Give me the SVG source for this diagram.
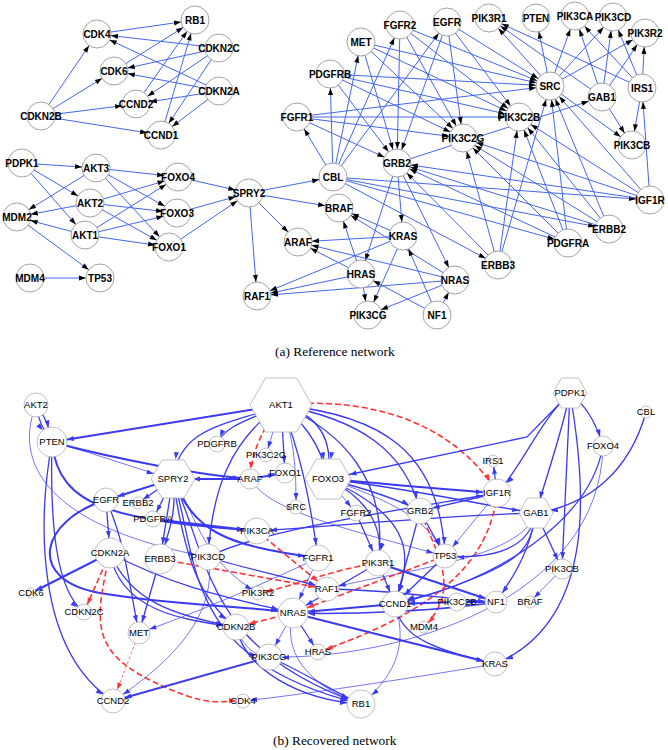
<svg xmlns="http://www.w3.org/2000/svg" width="668" height="750" viewBox="0 0 668 750">
<style>
.ea line{stroke:#4466ee;stroke-width:1;marker-end:url(#ma)}
.na circle{fill:#fff;stroke:#8a8a8a;stroke-width:0.8}
.na text{font:bold 10px "Liberation Sans",Arial,sans-serif;text-anchor:middle;fill:#000}
.eb path{fill:none;stroke:#3a3af0}
.eb .e1{stroke-width:0.7}
.eb .e2{stroke-width:1.3}
.eb .e3{stroke-width:2}
.eb path.rd{stroke:#ff3333;stroke-width:1.6;stroke-dasharray:6 3}
.eb path.rt{stroke:#ff3333;stroke-width:0.7;stroke-dasharray:3 2}
.nb circle,.nb polygon{fill:#fff;stroke:#b0b0b0;stroke-width:0.8}
.nb text{font:9.5px "Liberation Sans",Arial,sans-serif;text-anchor:middle;fill:#000}
.cap{font:13.4px "Liberation Serif","Times New Roman",serif;fill:#000}
</style>
<defs>
<marker id="ma" markerUnits="userSpaceOnUse" markerWidth="7" markerHeight="5" refX="21" refY="2.5" orient="auto" overflow="visible"><path d="M0,0 L7,2.5 L0,5 z" fill="#000"/></marker>
<marker id="mb5" markerUnits="userSpaceOnUse" markerWidth="7" markerHeight="5" refX="12" refY="2.5" orient="auto" overflow="visible"><path d="M0,0 L7,2.5 L0,5 z" fill="#3a3af0"/></marker>
<marker id="mb6" markerUnits="userSpaceOnUse" markerWidth="7" markerHeight="5" refX="13" refY="2.5" orient="auto" overflow="visible"><path d="M0,0 L7,2.5 L0,5 z" fill="#3a3af0"/></marker>
<marker id="mb7" markerUnits="userSpaceOnUse" markerWidth="7" markerHeight="5" refX="14" refY="2.5" orient="auto" overflow="visible"><path d="M0,0 L7,2.5 L0,5 z" fill="#3a3af0"/></marker>
<marker id="mb8" markerUnits="userSpaceOnUse" markerWidth="7" markerHeight="5" refX="15" refY="2.5" orient="auto" overflow="visible"><path d="M0,0 L7,2.5 L0,5 z" fill="#3a3af0"/></marker>
<marker id="mb9" markerUnits="userSpaceOnUse" markerWidth="7" markerHeight="5" refX="16" refY="2.5" orient="auto" overflow="visible"><path d="M0,0 L7,2.5 L0,5 z" fill="#3a3af0"/></marker>
<marker id="mb10" markerUnits="userSpaceOnUse" markerWidth="7" markerHeight="5" refX="17" refY="2.5" orient="auto" overflow="visible"><path d="M0,0 L7,2.5 L0,5 z" fill="#3a3af0"/></marker>
<marker id="mb11" markerUnits="userSpaceOnUse" markerWidth="7" markerHeight="5" refX="18" refY="2.5" orient="auto" overflow="visible"><path d="M0,0 L7,2.5 L0,5 z" fill="#3a3af0"/></marker>
<marker id="mb12" markerUnits="userSpaceOnUse" markerWidth="7" markerHeight="5" refX="19" refY="2.5" orient="auto" overflow="visible"><path d="M0,0 L7,2.5 L0,5 z" fill="#3a3af0"/></marker>
<marker id="mb13" markerUnits="userSpaceOnUse" markerWidth="7" markerHeight="5" refX="20" refY="2.5" orient="auto" overflow="visible"><path d="M0,0 L7,2.5 L0,5 z" fill="#3a3af0"/></marker>
<marker id="mb14" markerUnits="userSpaceOnUse" markerWidth="7" markerHeight="5" refX="21" refY="2.5" orient="auto" overflow="visible"><path d="M0,0 L7,2.5 L0,5 z" fill="#3a3af0"/></marker>
<marker id="mb15" markerUnits="userSpaceOnUse" markerWidth="7" markerHeight="5" refX="22" refY="2.5" orient="auto" overflow="visible"><path d="M0,0 L7,2.5 L0,5 z" fill="#3a3af0"/></marker>
<marker id="mb17" markerUnits="userSpaceOnUse" markerWidth="7" markerHeight="5" refX="24" refY="2.5" orient="auto" overflow="visible"><path d="M0,0 L7,2.5 L0,5 z" fill="#3a3af0"/></marker>
<marker id="mb20" markerUnits="userSpaceOnUse" markerWidth="7" markerHeight="5" refX="27" refY="2.5" orient="auto" overflow="visible"><path d="M0,0 L7,2.5 L0,5 z" fill="#3a3af0"/></marker>
<marker id="mb22" markerUnits="userSpaceOnUse" markerWidth="7" markerHeight="5" refX="29" refY="2.5" orient="auto" overflow="visible"><path d="M0,0 L7,2.5 L0,5 z" fill="#3a3af0"/></marker>
<marker id="mr6" markerUnits="userSpaceOnUse" markerWidth="7" markerHeight="5" refX="13" refY="2.5" orient="auto" overflow="visible"><path d="M0,0 L7,2.5 L0,5 z" fill="#ff3333"/></marker>
<marker id="mr7" markerUnits="userSpaceOnUse" markerWidth="7" markerHeight="5" refX="14" refY="2.5" orient="auto" overflow="visible"><path d="M0,0 L7,2.5 L0,5 z" fill="#ff3333"/></marker>
<marker id="mr8" markerUnits="userSpaceOnUse" markerWidth="7" markerHeight="5" refX="15" refY="2.5" orient="auto" overflow="visible"><path d="M0,0 L7,2.5 L0,5 z" fill="#ff3333"/></marker>
<marker id="mr10" markerUnits="userSpaceOnUse" markerWidth="7" markerHeight="5" refX="17" refY="2.5" orient="auto" overflow="visible"><path d="M0,0 L7,2.5 L0,5 z" fill="#ff3333"/></marker>
<marker id="mr12" markerUnits="userSpaceOnUse" markerWidth="7" markerHeight="5" refX="19" refY="2.5" orient="auto" overflow="visible"><path d="M0,0 L7,2.5 L0,5 z" fill="#ff3333"/></marker>
<marker id="mr13" markerUnits="userSpaceOnUse" markerWidth="7" markerHeight="5" refX="20" refY="2.5" orient="auto" overflow="visible"><path d="M0,0 L7,2.5 L0,5 z" fill="#ff3333"/></marker>
<marker id="mr14" markerUnits="userSpaceOnUse" markerWidth="7" markerHeight="5" refX="21" refY="2.5" orient="auto" overflow="visible"><path d="M0,0 L7,2.5 L0,5 z" fill="#ff3333"/></marker>
<marker id="mr15" markerUnits="userSpaceOnUse" markerWidth="7" markerHeight="5" refX="22" refY="2.5" orient="auto" overflow="visible"><path d="M0,0 L7,2.5 L0,5 z" fill="#ff3333"/></marker>
</defs>
<rect width="668" height="750" fill="#fff"/>

<!-- (a) Reference network: connectors -->
<g id="a-edges" class="ea">
<line x1="97" y1="34" x2="195" y2="20"/>
<line x1="219" y1="48" x2="97" y2="34"/>
<line x1="219" y1="91" x2="97" y2="34"/>
<line x1="114" y1="71" x2="195" y2="20"/>
<line x1="219" y1="48" x2="114" y2="71"/>
<line x1="219" y1="91" x2="114" y2="71"/>
<line x1="219" y1="48" x2="136" y2="104"/>
<line x1="219" y1="91" x2="136" y2="104"/>
<line x1="136" y1="104" x2="195" y2="20"/>
<line x1="161" y1="135" x2="195" y2="20"/>
<line x1="219" y1="48" x2="161" y2="135"/>
<line x1="219" y1="91" x2="161" y2="135"/>
<line x1="41" y1="116" x2="97" y2="34"/>
<line x1="41" y1="116" x2="114" y2="71"/>
<line x1="41" y1="116" x2="136" y2="104"/>
<line x1="41" y1="116" x2="161" y2="135"/>
<line x1="22" y1="163" x2="96" y2="168"/>
<line x1="22" y1="163" x2="90" y2="203"/>
<line x1="22" y1="163" x2="85" y2="235"/>
<line x1="96" y1="168" x2="17" y2="217"/>
<line x1="90" y1="203" x2="17" y2="217"/>
<line x1="85" y1="235" x2="17" y2="217"/>
<line x1="96" y1="168" x2="178" y2="177"/>
<line x1="96" y1="168" x2="177" y2="213"/>
<line x1="96" y1="168" x2="169" y2="247"/>
<line x1="90" y1="203" x2="178" y2="177"/>
<line x1="90" y1="203" x2="177" y2="213"/>
<line x1="90" y1="203" x2="169" y2="247"/>
<line x1="85" y1="235" x2="178" y2="177"/>
<line x1="85" y1="235" x2="177" y2="213"/>
<line x1="85" y1="235" x2="169" y2="247"/>
<line x1="17" y1="217" x2="100" y2="278"/>
<line x1="30" y1="278" x2="100" y2="278"/>
<line x1="178" y1="177" x2="249" y2="193"/>
<line x1="177" y1="213" x2="249" y2="193"/>
<line x1="169" y1="247" x2="249" y2="193"/>
<line x1="249" y1="193" x2="333" y2="177"/>
<line x1="249" y1="193" x2="339" y2="208"/>
<line x1="249" y1="193" x2="298" y2="242"/>
<line x1="249" y1="193" x2="257" y2="296"/>
<line x1="333" y1="177" x2="297" y2="117"/>
<line x1="333" y1="177" x2="330" y2="74"/>
<line x1="333" y1="177" x2="361" y2="42"/>
<line x1="333" y1="177" x2="400" y2="25"/>
<line x1="333" y1="177" x2="447" y2="22"/>
<line x1="333" y1="177" x2="650" y2="200"/>
<line x1="333" y1="177" x2="609" y2="229"/>
<line x1="333" y1="177" x2="568" y2="243"/>
<line x1="333" y1="177" x2="498" y2="265"/>
<line x1="297" y1="117" x2="550" y2="86"/>
<line x1="297" y1="117" x2="519" y2="117"/>
<line x1="297" y1="117" x2="463" y2="138"/>
<line x1="297" y1="117" x2="397" y2="163"/>
<line x1="330" y1="74" x2="550" y2="86"/>
<line x1="330" y1="74" x2="519" y2="117"/>
<line x1="330" y1="74" x2="463" y2="138"/>
<line x1="330" y1="74" x2="397" y2="163"/>
<line x1="361" y1="42" x2="550" y2="86"/>
<line x1="361" y1="42" x2="519" y2="117"/>
<line x1="361" y1="42" x2="463" y2="138"/>
<line x1="361" y1="42" x2="397" y2="163"/>
<line x1="400" y1="25" x2="550" y2="86"/>
<line x1="400" y1="25" x2="519" y2="117"/>
<line x1="400" y1="25" x2="463" y2="138"/>
<line x1="400" y1="25" x2="397" y2="163"/>
<line x1="447" y1="22" x2="550" y2="86"/>
<line x1="447" y1="22" x2="519" y2="117"/>
<line x1="447" y1="22" x2="463" y2="138"/>
<line x1="447" y1="22" x2="397" y2="163"/>
<line x1="650" y1="200" x2="550" y2="86"/>
<line x1="650" y1="200" x2="519" y2="117"/>
<line x1="650" y1="200" x2="463" y2="138"/>
<line x1="650" y1="200" x2="397" y2="163"/>
<line x1="609" y1="229" x2="550" y2="86"/>
<line x1="609" y1="229" x2="519" y2="117"/>
<line x1="609" y1="229" x2="463" y2="138"/>
<line x1="609" y1="229" x2="397" y2="163"/>
<line x1="568" y1="243" x2="550" y2="86"/>
<line x1="568" y1="243" x2="519" y2="117"/>
<line x1="568" y1="243" x2="463" y2="138"/>
<line x1="568" y1="243" x2="397" y2="163"/>
<line x1="498" y1="265" x2="550" y2="86"/>
<line x1="498" y1="265" x2="519" y2="117"/>
<line x1="498" y1="265" x2="463" y2="138"/>
<line x1="498" y1="265" x2="397" y2="163"/>
<line x1="397" y1="163" x2="602" y2="97"/>
<line x1="397" y1="163" x2="403" y2="236"/>
<line x1="397" y1="163" x2="361" y2="274"/>
<line x1="397" y1="163" x2="455" y2="280"/>
<line x1="403" y1="236" x2="339" y2="208"/>
<line x1="403" y1="236" x2="298" y2="242"/>
<line x1="403" y1="236" x2="257" y2="296"/>
<line x1="403" y1="236" x2="368" y2="315"/>
<line x1="361" y1="274" x2="339" y2="208"/>
<line x1="361" y1="274" x2="298" y2="242"/>
<line x1="361" y1="274" x2="257" y2="296"/>
<line x1="361" y1="274" x2="368" y2="315"/>
<line x1="455" y1="280" x2="339" y2="208"/>
<line x1="455" y1="280" x2="298" y2="242"/>
<line x1="455" y1="280" x2="257" y2="296"/>
<line x1="455" y1="280" x2="368" y2="315"/>
<line x1="437" y1="315" x2="403" y2="236"/>
<line x1="437" y1="315" x2="361" y2="274"/>
<line x1="437" y1="315" x2="455" y2="280"/>
<line x1="550" y1="86" x2="489" y2="18"/>
<line x1="550" y1="86" x2="536" y2="18"/>
<line x1="550" y1="86" x2="575" y2="16"/>
<line x1="550" y1="86" x2="613" y2="17"/>
<line x1="550" y1="86" x2="645" y2="33"/>
<line x1="550" y1="86" x2="632" y2="145"/>
<line x1="602" y1="97" x2="489" y2="18"/>
<line x1="602" y1="97" x2="575" y2="16"/>
<line x1="602" y1="97" x2="613" y2="17"/>
<line x1="602" y1="97" x2="645" y2="33"/>
<line x1="602" y1="97" x2="632" y2="145"/>
<line x1="642" y1="88" x2="489" y2="18"/>
<line x1="642" y1="88" x2="575" y2="16"/>
<line x1="642" y1="88" x2="613" y2="17"/>
<line x1="642" y1="88" x2="645" y2="33"/>
<line x1="642" y1="88" x2="632" y2="145"/>
<line x1="650" y1="200" x2="642" y2="88"/>
</g>

<!-- (a) nodes -->
<g class="na">
<g id="a-RB1"><circle cx="195" cy="20" r="14"/><text x="195" y="23.5">RB1</text></g>
<g id="a-CDK4"><circle cx="97" cy="34" r="14"/><text x="97" y="37.5">CDK4</text></g>
<g id="a-CDKN2C"><circle cx="219" cy="48" r="14"/><text x="219" y="51.5">CDKN2C</text></g>
<g id="a-CDK6"><circle cx="114" cy="71" r="14"/><text x="114" y="74.5">CDK6</text></g>
<g id="a-CDKN2A"><circle cx="219" cy="91" r="14"/><text x="219" y="94.5">CDKN2A</text></g>
<g id="a-CCND2"><circle cx="136" cy="104" r="14"/><text x="136" y="107.5">CCND2</text></g>
<g id="a-CDKN2B"><circle cx="41" cy="116" r="14"/><text x="41" y="119.5">CDKN2B</text></g>
<g id="a-CCND1"><circle cx="161" cy="135" r="14"/><text x="161" y="138.5">CCND1</text></g>
<g id="a-PDPK1"><circle cx="22" cy="163" r="14"/><text x="22" y="166.5">PDPK1</text></g>
<g id="a-AKT3"><circle cx="96" cy="168" r="14"/><text x="96" y="171.5">AKT3</text></g>
<g id="a-FOXO4"><circle cx="178" cy="177" r="14"/><text x="178" y="180.5">FOXO4</text></g>
<g id="a-AKT2"><circle cx="90" cy="203" r="14"/><text x="90" y="206.5">AKT2</text></g>
<g id="a-MDM2"><circle cx="17" cy="217" r="14"/><text x="17" y="220.5">MDM2</text></g>
<g id="a-FOXO3"><circle cx="177" cy="213" r="14"/><text x="177" y="216.5">FOXO3</text></g>
<g id="a-AKT1"><circle cx="85" cy="235" r="14"/><text x="85" y="238.5">AKT1</text></g>
<g id="a-FOXO1"><circle cx="169" cy="247" r="14"/><text x="169" y="250.5">FOXO1</text></g>
<g id="a-SPRY2"><circle cx="249" cy="193" r="14"/><text x="249" y="196.5">SPRY2</text></g>
<g id="a-MDM4"><circle cx="30" cy="278" r="14"/><text x="30" y="281.5">MDM4</text></g>
<g id="a-TP53"><circle cx="100" cy="278" r="14"/><text x="100" y="281.5">TP53</text></g>
<g id="a-ARAF"><circle cx="298" cy="242" r="14"/><text x="298" y="245.5">ARAF</text></g>
<g id="a-RAF1"><circle cx="257" cy="296" r="14"/><text x="257" y="299.5">RAF1</text></g>
<g id="a-BRAF"><circle cx="339" cy="208" r="14"/><text x="339" y="211.5">BRAF</text></g>
<g id="a-CBL"><circle cx="333" cy="177" r="14"/><text x="333" y="180.5">CBL</text></g>
<g id="a-KRAS"><circle cx="403" cy="236" r="14"/><text x="403" y="239.5">KRAS</text></g>
<g id="a-HRAS"><circle cx="361" cy="274" r="14"/><text x="361" y="277.5">HRAS</text></g>
<g id="a-NRAS"><circle cx="455" cy="280" r="14"/><text x="455" y="283.5">NRAS</text></g>
<g id="a-PIK3CG"><circle cx="368" cy="315" r="14"/><text x="368" y="318.5">PIK3CG</text></g>
<g id="a-NF1"><circle cx="437" cy="315" r="14"/><text x="437" y="318.5">NF1</text></g>
<g id="a-ERBB3"><circle cx="498" cy="265" r="14"/><text x="498" y="268.5">ERBB3</text></g>
<g id="a-PDGFRA"><circle cx="568" cy="243" r="14"/><text x="568" y="246.5">PDGFRA</text></g>
<g id="a-ERBB2"><circle cx="609" cy="229" r="14"/><text x="609" y="232.5">ERBB2</text></g>
<g id="a-IGF1R"><circle cx="650" cy="200" r="14"/><text x="650" y="203.5">IGF1R</text></g>
<g id="a-GRB2"><circle cx="397" cy="163" r="14"/><text x="397" y="166.5">GRB2</text></g>
<g id="a-FGFR1"><circle cx="297" cy="117" r="14"/><text x="297" y="120.5">FGFR1</text></g>
<g id="a-PDGFRB"><circle cx="330" cy="74" r="14"/><text x="330" y="77.5">PDGFRB</text></g>
<g id="a-MET"><circle cx="361" cy="42" r="14"/><text x="361" y="45.5">MET</text></g>
<g id="a-FGFR2"><circle cx="400" cy="25" r="14"/><text x="400" y="28.5">FGFR2</text></g>
<g id="a-EGFR"><circle cx="447" cy="22" r="14"/><text x="447" y="25.5">EGFR</text></g>
<g id="a-PIK3R1"><circle cx="489" cy="18" r="14"/><text x="489" y="21.5">PIK3R1</text></g>
<g id="a-PTEN"><circle cx="536" cy="18" r="14"/><text x="536" y="21.5">PTEN</text></g>
<g id="a-PIK3CA"><circle cx="575" cy="16" r="14"/><text x="575" y="19.5">PIK3CA</text></g>
<g id="a-PIK3CD"><circle cx="613" cy="17" r="14"/><text x="613" y="20.5">PIK3CD</text></g>
<g id="a-PIK3R2"><circle cx="645" cy="33" r="14"/><text x="645" y="36.5">PIK3R2</text></g>
<g id="a-SRC"><circle cx="550" cy="86" r="14"/><text x="550" y="89.5">SRC</text></g>
<g id="a-GAB1"><circle cx="602" cy="97" r="14"/><text x="602" y="100.5">GAB1</text></g>
<g id="a-IRS1"><circle cx="642" cy="88" r="14"/><text x="642" y="91.5">IRS1</text></g>
<g id="a-PIK3C2B"><circle cx="519" cy="117" r="14"/><text x="519" y="120.5">PIK3C2B</text></g>
<g id="a-PIK3C2G"><circle cx="463" cy="138" r="14"/><text x="463" y="141.5">PIK3C2G</text></g>
<g id="a-PIK3CB"><circle cx="632" cy="145" r="14"/><text x="632" y="148.5">PIK3CB</text></g>
</g>
<text class="cap" x="275" y="356">(a)  Reference network</text>

<!-- (b) Recovered network: connectors -->
<g id="b-edges" class="eb">
<path class="e3" d="M281,405 L52,442" marker-end="url(#mb15)"/>
<path class="e2" d="M281,405 C230,425 180,425 173,479" marker-end="url(#mb20)"/>
<path class="e2" d="M281,405 C250,420 225,425 217,444" marker-end="url(#mb8)"/>
<path class="e1" d="M281,405 L266,455" marker-end="url(#mb7)"/>
<path class="e2" d="M281,405 L285,473" marker-end="url(#mb10)"/>
<path class="e2" d="M281,405 C300,420 320,440 328,479" marker-end="url(#mb20)"/>
<path class="e2" d="M281,405 C310,412 335,430 328,479" marker-end="url(#mb20)"/>
<path class="e2" d="M281,405 C380,415 440,450 445,556" marker-end="url(#mb12)"/>
<path class="e2" d="M281,405 C360,420 405,450 420,511" marker-end="url(#mb13)"/>
<path class="e2" d="M281,405 C300,450 310,500 318,558" marker-end="url(#mb13)"/>
<path class="e2" d="M281,405 C230,440 212,490 208,557" marker-end="url(#mb13)"/>
<path class="e1" d="M281,405 C295,440 296,470 296,507" marker-end="url(#mb7)"/>
<path class="e2" d="M281,405 C340,430 390,480 378,563" marker-end="url(#mb13)"/>
<path class="rd" d="M281,405 C380,395 460,430 497,493" marker-end="url(#mr14)"/>
<path class="rd" d="M281,405 C262,430 252,450 250,479" marker-end="url(#mr10)"/>
<path class="e1" d="M52,442 C100,455 140,470 173,479" marker-end="url(#mb20)"/>
<path class="e3" d="M52,442 C120,460 200,475 250,479" marker-end="url(#mb10)"/>
<path class="e2" d="M52,442 C38,520 35,650 113,701" marker-end="url(#mb12)"/>
<path class="e2" d="M52,442 C50,520 55,590 84,612" marker-end="url(#mb8)"/>
<path class="e3" d="M52,442 C58,510 120,520 257,531" marker-end="url(#mb13)"/>
<path class="e2" d="M36,405 C45,415 48,425 52,442" marker-end="url(#mb15)"/>
<path class="e2" d="M36,405 C38,420 44,432 52,442" marker-end="url(#mb15)"/>
<path class="e1" d="M36,405 C10,470 60,530 208,557" marker-end="url(#mb13)"/>
<path class="e3" d="M173,479 L106,500" marker-end="url(#mb12)"/>
<path class="e2" d="M173,479 L138,503" marker-end="url(#mb6)"/>
<path class="e2" d="M173,479 L153,519" marker-end="url(#mb8)"/>
<path class="e2" d="M173,479 L160,559" marker-end="url(#mb15)"/>
<path class="e2" d="M173,479 C177,510 170,530 160,559" marker-end="url(#mb15)"/>
<path class="e1" d="M173,479 C195,510 200,560 258,593" marker-end="url(#mb7)"/>
<path class="e2" d="M173,479 C200,560 180,660 361,704" marker-end="url(#mb14)"/>
<path class="e2" d="M173,479 C210,560 205,650 361,704" marker-end="url(#mb14)"/>
<path class="e3" d="M173,479 C195,530 220,545 318,558" marker-end="url(#mb13)"/>
<path class="e2" d="M173,479 C185,560 200,600 236,627" marker-end="url(#mb13)"/>
<path class="e3" d="M250,479 L173,479" marker-end="url(#mb20)"/>
<path class="e3" d="M250,479 L285,473" marker-end="url(#mb10)"/>
<path class="e2" d="M106,500 L110,553" marker-end="url(#mb15)"/>
<path class="e2" d="M106,500 C125,540 130,590 139,633" marker-end="url(#mb11)"/>
<path class="e3" d="M106,500 C40,520 25,580 100,593 S240,605 293,613" marker-end="url(#mb15)"/>
<path class="e2" d="M160,559 L139,633" marker-end="url(#mb11)"/>
<path class="e3" d="M110,553 L31,593" marker-end="url(#mb5)"/>
<path class="e2" d="M110,553 C130,600 170,615 236,627" marker-end="url(#mb13)"/>
<path class="e2" d="M110,553 C120,610 180,620 236,627" marker-end="url(#mb13)"/>
<path class="rd" d="M110,553 L84,612" marker-end="url(#mr8)"/>
<path class="rd" d="M110,553 C95,620 90,650 150,680 S220,700 243,701" marker-end="url(#mr7)"/>
<path class="e2" d="M110,553 C180,590 240,600 293,613" marker-end="url(#mb15)"/>
<path class="e3" d="M153,519 L257,531" marker-end="url(#mb13)"/>
<path class="rd" d="M257,531 L327,589" marker-end="url(#mr12)"/>
<path class="rd" d="M160,559 L327,589" marker-end="url(#mr12)"/>
<path class="rd" d="M378,563 C330,570 300,585 258,593" marker-end="url(#mr7)"/>
<path class="e1" d="M250,479 C270,510 330,525 445,556" marker-end="url(#mb12)"/>
<path class="e2" d="M536,513 C450,515 350,525 257,531" marker-end="url(#mb13)"/>
<path class="e2" d="M208,557 C260,530 400,510 497,493" marker-end="url(#mb14)"/>
<path class="e2" d="M208,557 C250,570 300,580 327,589" marker-end="url(#mb12)"/>
<path class="e1" d="M318,558 C250,590 190,615 139,633" marker-end="url(#mb11)"/>
<path class="e1" d="M318,558 L293,613" marker-end="url(#mb15)"/>
<path class="e1" d="M208,557 C220,620 160,670 113,701" marker-end="url(#mb12)"/>
<path class="e3" d="M328,479 C400,485 450,490 497,493" marker-end="url(#mb14)"/>
<path class="e2" d="M328,479 C420,490 480,505 536,513" marker-end="url(#mb17)"/>
<path class="e2" d="M328,479 C370,490 400,500 420,511" marker-end="url(#mb13)"/>
<path class="e1" d="M328,479 L356,513" marker-end="url(#mb8)"/>
<path class="e2" d="M328,479 C370,500 385,530 378,563" marker-end="url(#mb13)"/>
<path class="e2" d="M328,479 C420,520 410,560 395,604" marker-end="url(#mb13)"/>
<path class="e1" d="M328,479 C390,500 430,520 445,556" marker-end="url(#mb12)"/>
<path class="e2" d="M356,513 L378,563" marker-end="url(#mb13)"/>
<path class="e2" d="M570,393 L527,437 L328,479" marker-end="url(#mb22)"/>
<path class="e2" d="M570,393 C540,420 520,470 497,493" marker-end="url(#mb14)"/>
<path class="e2" d="M570,393 C585,405 595,420 603,446" marker-end="url(#mb10)"/>
<path class="e2" d="M570,393 L562,569" marker-end="url(#mb10)"/>
<path class="e2" d="M570,393 C585,480 600,620 495,664" marker-end="url(#mb12)"/>
<path class="e2" d="M570,393 C560,440 545,480 536,513" marker-end="url(#mb15)"/>
<path class="e2" d="M603,446 C590,520 500,580 395,604" marker-end="url(#mb13)"/>
<path class="e1" d="M603,446 C600,600 400,660 269,657" marker-end="url(#mb13)"/>
<path class="e2" d="M646,412 C630,470 590,505 536,513" marker-end="url(#mb15)"/>
<path class="e2" d="M497,493 L493,461" marker-end="url(#mb6)"/>
<path class="e2" d="M497,493 L420,511" marker-end="url(#mb13)"/>
<path class="e1" d="M497,493 L445,556" marker-end="url(#mb12)"/>
<path class="rd" d="M497,493 C490,560 440,610 318,652" marker-end="url(#mr8)"/>
<path class="e2" d="M536,513 L562,569" marker-end="url(#mb10)"/>
<path class="e2" d="M536,513 C530,545 500,560 445,556" marker-end="url(#mb12)"/>
<path class="e2" d="M536,513 C530,550 515,575 496,602" marker-end="url(#mb11)"/>
<path class="e2" d="M536,513 C530,550 520,560 470,580 S420,595 395,604" marker-end="url(#mb13)"/>
<path class="e1" d="M536,513 C520,560 400,570 327,589" marker-end="url(#mb12)"/>
<path class="e1" d="M562,569 L530,602" marker-end="url(#mb6)"/>
<path class="e2" d="M420,511 L395,604" marker-end="url(#mb13)"/>
<path class="e2" d="M420,511 L445,556" marker-end="url(#mb12)"/>
<path class="rd" d="M420,511 C440,560 460,590 424,627" marker-end="url(#mr6)"/>
<path class="e2" d="M445,556 L395,604" marker-end="url(#mb13)"/>
<path class="rd" d="M445,556 L293,613" marker-end="url(#mr15)"/>
<path class="e3" d="M378,563 L496,602" marker-end="url(#mb11)"/>
<path class="e2" d="M378,563 L395,604" marker-end="url(#mb13)"/>
<path class="e2" d="M378,563 L293,613" marker-end="url(#mb15)"/>
<path class="e2" d="M327,589 C400,590 450,600 496,602" marker-end="url(#mb11)"/>
<path class="e1" d="M395,604 C410,650 390,680 361,704" marker-end="url(#mb14)"/>
<path class="e2" d="M395,604 C400,640 440,650 495,664" marker-end="url(#mb12)"/>
<path class="e3" d="M395,604 L293,613" marker-end="url(#mb15)"/>
<path class="e3" d="M457,602 L395,604" marker-end="url(#mb13)"/>
<path class="e3" d="M496,602 L457,602" marker-end="url(#mb9)"/>
<path class="e2" d="M496,602 C450,610 350,615 293,613" marker-end="url(#mb15)"/>
<path class="rd" d="M293,613 L236,627" marker-end="url(#mr13)"/>
<path class="e2" d="M293,613 L318,652" marker-end="url(#mb8)"/>
<path class="e1" d="M293,613 L269,657" marker-end="url(#mb13)"/>
<path class="e3" d="M293,613 L495,664" marker-end="url(#mb12)"/>
<path class="e1" d="M293,613 C280,660 320,690 361,704" marker-end="url(#mb14)"/>
<path class="e3" d="M269,657 L113,701" marker-end="url(#mb12)"/>
<path class="e2" d="M269,657 C300,670 330,690 361,704" marker-end="url(#mb14)"/>
<path class="e2" d="M236,627 C245,670 300,700 361,704" marker-end="url(#mb14)"/>
<path class="e1" d="M236,627 C245,650 255,655 269,657" marker-end="url(#mb13)"/>
<path class="e1" d="M495,664 C400,680 300,695 243,701" marker-end="url(#mb7)"/>
<path class="rt" d="M139,633 L113,701" marker-end="url(#mr12)"/>
</g>

<!-- (b) nodes -->
<g class="nb">
<g id="b-AKT1"><polygon points="250,405 265.5,378 296.5,378 312,405 296.5,432 265.5,432"/><text x="281" y="408.4">AKT1</text></g>
<g id="b-AKT2"><circle cx="36" cy="405" r="12"/><text x="36" y="408.4">AKT2</text></g>
<g id="b-PTEN"><circle cx="52" cy="442" r="15"/><text x="52" y="445.4">PTEN</text></g>
<g id="b-PDGFRB"><circle cx="217" cy="444" r="8"/><text x="217" y="447.4">PDGFRB</text></g>
<g id="b-PIK3C2G"><circle cx="266" cy="455" r="7"/><text x="266" y="458.4">PIK3C2G</text></g>
<g id="b-FOXO1"><circle cx="285" cy="473" r="10"/><text x="285" y="476.4">FOXO1</text></g>
<g id="b-ARAF"><circle cx="250" cy="479" r="10"/><text x="250" y="482.4">ARAF</text></g>
<g id="b-SPRY2"><polygon points="151,479 162,460 184,460 195,479 184,498 162,498"/><text x="173" y="482.4">SPRY2</text></g>
<g id="b-FOXO3"><polygon points="305,479 316.5,459 339.5,459 351,479 339.5,499 316.5,499"/><text x="328" y="482.4">FOXO3</text></g>
<g id="b-EGFR"><circle cx="106" cy="500" r="12"/><text x="106" y="503.4">EGFR</text></g>
<g id="b-ERBB2"><circle cx="138" cy="503" r="6"/><text x="138" y="506.4">ERBB2</text></g>
<g id="b-SRC"><circle cx="296" cy="507" r="7"/><text x="296" y="510.4">SRC</text></g>
<g id="b-PDGFRA"><circle cx="153" cy="519" r="8"/><text x="153" y="522.4">PDGFRA</text></g>
<g id="b-PIK3CA"><circle cx="257" cy="531" r="13"/><text x="257" y="534.4">PIK3CA</text></g>
<g id="b-CDKN2A"><circle cx="110" cy="553" r="15"/><text x="110" y="556.4">CDKN2A</text></g>
<g id="b-ERBB3"><circle cx="160" cy="559" r="15"/><text x="160" y="562.4">ERBB3</text></g>
<g id="b-PIK3CD"><circle cx="208" cy="557" r="13"/><text x="208" y="560.4">PIK3CD</text></g>
<g id="b-FGFR1"><circle cx="318" cy="558" r="13"/><text x="318" y="561.4">FGFR1</text></g>
<g id="b-CDK6"><circle cx="31" cy="593" r="5"/><text x="31" y="596.4">CDK6</text></g>
<g id="b-PIK3R2"><circle cx="258" cy="593" r="7"/><text x="258" y="596.4">PIK3R2</text></g>
<g id="b-RAF1"><circle cx="327" cy="589" r="12"/><text x="327" y="592.4">RAF1</text></g>
<g id="b-CDKN2C"><circle cx="84" cy="612" r="8"/><text x="84" y="615.4">CDKN2C</text></g>
<g id="b-NRAS"><circle cx="293" cy="613" r="15"/><text x="293" y="616.4">NRAS</text></g>
<g id="b-MET"><circle cx="139" cy="633" r="11"/><text x="139" y="636.4">MET</text></g>
<g id="b-CDKN2B"><circle cx="236" cy="627" r="13"/><text x="236" y="630.4">CDKN2B</text></g>
<g id="b-PIK3CG"><circle cx="269" cy="657" r="13"/><text x="269" y="660.4">PIK3CG</text></g>
<g id="b-HRAS"><circle cx="318" cy="652" r="8"/><text x="318" y="655.4">HRAS</text></g>
<g id="b-CCND2"><circle cx="113" cy="701" r="12"/><text x="113" y="704.4">CCND2</text></g>
<g id="b-CDK4"><circle cx="243" cy="701" r="7"/><text x="243" y="704.4">CDK4</text></g>
<g id="b-IRS1"><circle cx="493" cy="461" r="6"/><text x="493" y="464.4">IRS1</text></g>
<g id="b-IGF1R"><circle cx="497" cy="493" r="14"/><text x="497" y="496.4">IGF1R</text></g>
<g id="b-GRB2"><circle cx="420" cy="511" r="13"/><text x="420" y="514.4">GRB2</text></g>
<g id="b-FGFR2"><circle cx="356" cy="513" r="8"/><text x="356" y="516.4">FGFR2</text></g>
<g id="b-GAB1"><polygon points="519,513 527.5,498 544.5,498 553,513 544.5,528 527.5,528"/><text x="536" y="516.4">GAB1</text></g>
<g id="b-TP53"><circle cx="445" cy="556" r="12"/><text x="445" y="559.4">TP53</text></g>
<g id="b-PIK3R1"><circle cx="378" cy="563" r="13"/><text x="378" y="566.4">PIK3R1</text></g>
<g id="b-PIK3CB"><circle cx="562" cy="569" r="10"/><text x="562" y="572.4">PIK3CB</text></g>
<g id="b-CCND1"><circle cx="395" cy="604" r="13"/><text x="395" y="607.4">CCND1</text></g>
<g id="b-PIK3C2B"><circle cx="457" cy="602" r="9"/><text x="457" y="605.4">PIK3C2B</text></g>
<g id="b-NF1"><circle cx="496" cy="602" r="11"/><text x="496" y="605.4">NF1</text></g>
<g id="b-BRAF"><circle cx="530" cy="602" r="6"/><text x="530" y="605.4">BRAF</text></g>
<g id="b-MDM4"><circle cx="424" cy="627" r="6"/><text x="424" y="630.4">MDM4</text></g>
<g id="b-KRAS"><circle cx="495" cy="664" r="12"/><text x="495" y="667.4">KRAS</text></g>
<g id="b-RB1"><circle cx="361" cy="704" r="14"/><text x="361" y="707.4">RB1</text></g>
<g id="b-PDPK1"><polygon points="553,393 561.5,378 578.5,378 587,393 578.5,408 561.5,408"/><text x="570" y="396.4">PDPK1</text></g>
<g id="b-CBL"><circle cx="646" cy="412" r="6"/><text x="646" y="415.4">CBL</text></g>
<g id="b-FOXO4"><circle cx="603" cy="446" r="10"/><text x="603" y="449.4">FOXO4</text></g>
</g>
<text class="cap" x="273" y="745">(b)  Recovered network</text>
</svg>
